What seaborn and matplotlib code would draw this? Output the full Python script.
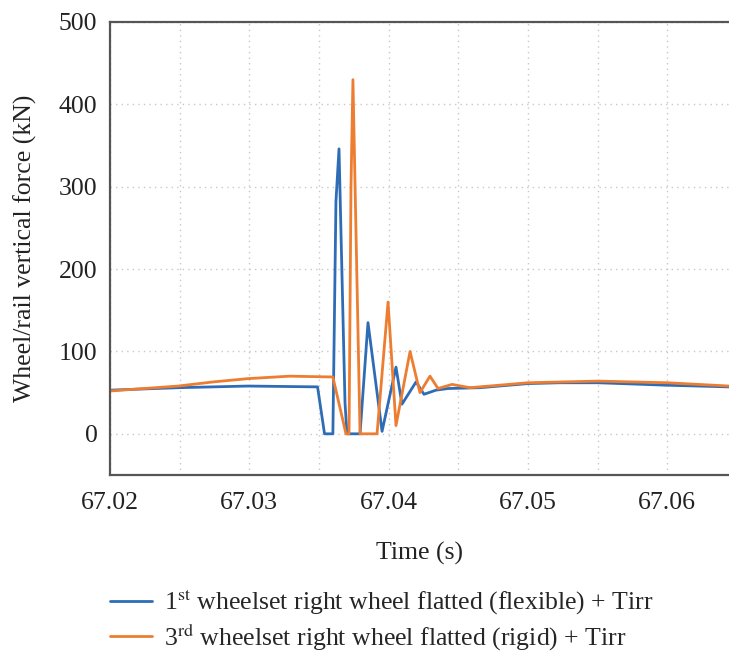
import numpy as np
import pandas as pd
import matplotlib
matplotlib.use("Agg")
import matplotlib.pyplot as plt
from matplotlib.ticker import MultipleLocator
import seaborn as sns

# Data
time_flexible = [67.0200, 67.0249, 67.0299, 67.0349, 67.0354, 67.0360, 67.03622, 67.03644,
                 67.03687, 67.03701, 67.03795, 67.03852, 67.03953, 67.04053, 67.04096,
                 67.04197, 67.04254, 67.04340, 67.04426, 67.04656, 67.05001, 67.0523,
                 67.05503, 67.05999, 67.06444]
force_flexible = [53, 56, 58, 57, 0, 0, 282, 346,
                  38, 0, 0, 135, 3, 81, 36,
                  63, 48, 53, 55, 56, 61, 62,
                  62, 59, 57]

time_rigid = [67.0200, 67.0249, 67.0274, 67.0299, 67.0329, 67.0360, 67.03694, 67.03716,
              67.0373, 67.03744, 67.03795, 67.03917, 67.03996, 67.04053, 67.04154,
              67.04225, 67.04297, 67.04355, 67.04455, 67.04584, 67.05001, 67.05503,
              67.05999, 67.06444]
force_rigid = [52, 58, 63, 67, 70, 69, 0, 0,
               300, 430, 0, 0, 160, 10, 100,
               50, 70, 55, 60, 56, 62, 64,
               62, 58]

label_flexible = r"1$^{\rm st}$ wheelset right wheel flatted (flexible) + Tirr"
label_rigid = r"3$^{\rm rd}$ wheelset right wheel flatted (rigid) + Tirr"

x_ticks = [67.02, 67.03, 67.04, 67.05, 67.06]
y_ticks = [0, 100, 200, 300, 400, 500]

sns.set_theme(style="white")
plt.rcParams['font.family'] = ['Liberation Serif', 'DejaVu Serif']
plt.rcParams['mathtext.fontset'] = 'stix'

FS = 18.5
fig = plt.figure(figsize=(7.29, 6.58), dpi=100)
ax = fig.add_axes([110/729, 1-475/658, 1-110/729, (475-22)/658])

blue = "#2E6DB6"
orange = "#ED7D31"
sns.lineplot(x=time_flexible, y=force_flexible, ax=ax, color=blue, linewidth=2.0,
             estimator=None, sort=False, label=label_flexible)
sns.lineplot(x=time_rigid, y=force_rigid, ax=ax, color=orange, linewidth=2.0,
             estimator=None, sort=False, label=label_rigid)

ax.set_xlim(67.02, 67.02 + (729-110)/13930)
ax.set_ylim(-50, 500)
ax.set_xticks(x_ticks)
ax.set_xticklabels([f"{v:.2f}" for v in x_ticks])
ax.set_yticks(y_ticks)
ax.xaxis.set_minor_locator(MultipleLocator(0.005))
ax.tick_params(axis='both', which='both', length=0, labelsize=FS, colors="#222222")
ax.tick_params(axis='x', pad=12)
ax.tick_params(axis='y', pad=9)

ax.grid(True, axis='x', which='both', linestyle=(0, (1, 3)), color="#c8c8c8", linewidth=1.0)
ax.grid(True, axis='y', which='major', linestyle=(0, (1, 3)), color="#c8c8c8", linewidth=1.0)

for side in ['top', 'left', 'bottom']:
    ax.spines[side].set_color("#555555")
    ax.spines[side].set_linewidth(1.6)
ax.spines['right'].set_visible(False)

ax.set_xlabel("Time (s)", fontsize=FS, labelpad=20, color="#222222")
ax.set_ylabel("Wheel/rail vertical force (kN)", fontsize=FS, labelpad=16, color="#222222")

handles, labels = ax.get_legend_handles_labels()
ax.get_legend().remove()
fig.legend(handles, labels, loc='upper left', bbox_to_anchor=(89/729, 1-567/658),
           frameon=False, fontsize=FS, handlelength=1.65, handletextpad=0.45,
           labelspacing=0.15, borderpad=0.3)

fig.savefig("out.png", dpi=100)
